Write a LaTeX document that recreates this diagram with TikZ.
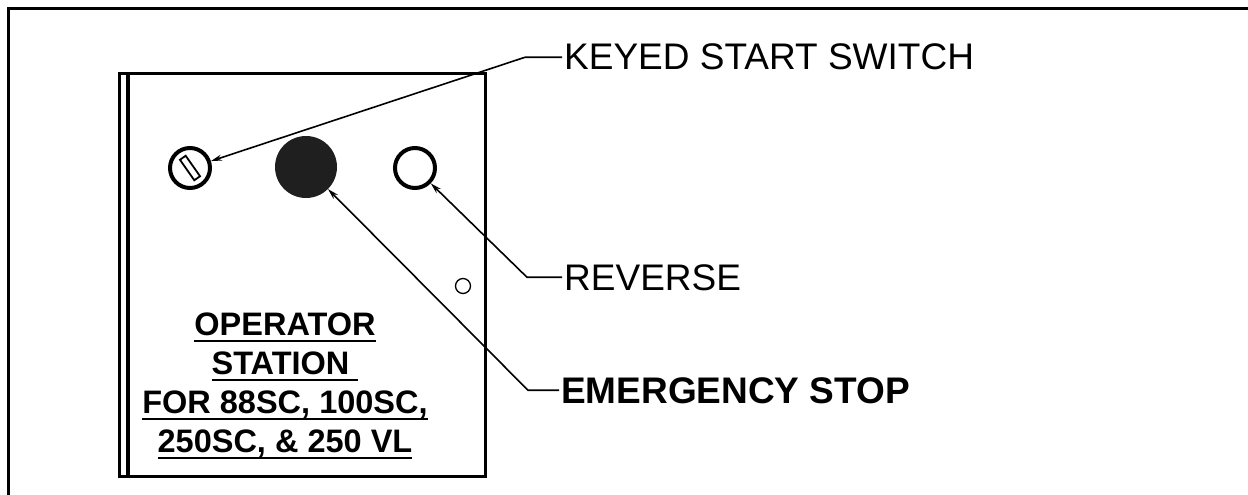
\documentclass[tikz,border=0pt]{standalone}
\usepackage{fontspec}
\setmainfont{Liberation Sans}
\usetikzlibrary{arrows.meta}
\newcommand{\ulbox}[1]{\setbox0\hbox{#1}\rlap{\rule[-6pt]{\wd0}{2pt}}\box0}

\begin{document}
\begin{tikzpicture}[x=1pt,y=-1pt,
  leader/.style={line width=1.6pt,-{Stealth[length=11pt,width=6pt]}},
  callout/.style={anchor=base west,inner sep=2pt,font=\fontsize{37}{40}\selectfont},
  knob/.style={circle,draw,line width=4pt,minimum size=40pt,inner sep=0pt}]
\useasboundingbox (0,0) rectangle (1248,495);
\draw [line width=3pt] (8,505) -- (8,9) -- (1260,9);
% station box
\draw [line width=3pt] (119,74) rectangle (485,476);
\draw [line width=4pt] (128,74) -- (128,476);
\node [knob] (key) at (190,168) {};
\node [draw,line width=1.8pt,minimum width=25pt,minimum height=7pt,inner sep=0pt,rotate=-55] (slot) at (key) {};
\node [circle,fill=black!88,minimum size=62pt,inner sep=0pt] (estop) at (306,167) {};
\node [knob] (rev) at (415,168) {};
\node [circle,draw,line width=1.3pt,minimum size=15pt,inner sep=0pt] (hole) at (463,286) {};
\node [align=center,font=\bfseries\fontsize{32.5}{39}\selectfont] (title) at (285,386)
  {\ulbox{OPERATOR}\\\ulbox{STATION\ }\\\ulbox{FOR 88SC, 100SC,}\\\ulbox{250SC, \& 250 VL}};
% callouts
\node [callout] (klbl) at (562,70) {KEYED START SWITCH};
\node [callout] (rlbl) at (562,290) {REVERSE};
\node [callout,font=\bfseries\fontsize{37}{40}\selectfont] (elbl) at (559,403) {EMERGENCY STOP};
\draw [leader] (klbl.west) -- ++(-37,0) -- (key);
\draw [leader] (rlbl.west) -- ++(-35,0) -- (rev);
\draw [leader] (elbl.west) -- ++(-31,0) -- (estop);
\end{tikzpicture}
\end{document}
